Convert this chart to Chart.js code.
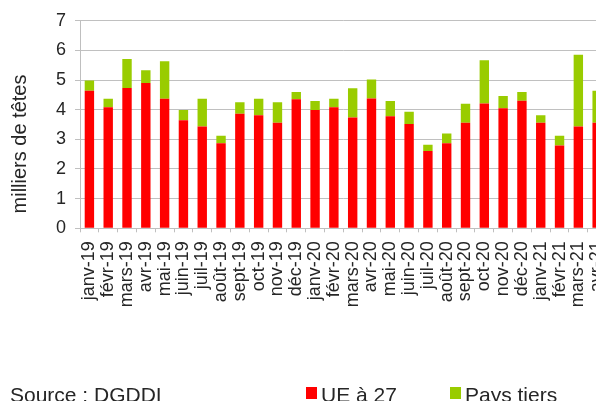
<!DOCTYPE html>
<html>
<head>
<meta charset="utf-8">
<script src="https://cdn.jsdelivr.net/npm/chart.js@4.4.1/dist/chart.umd.min.js"></script>
<style>
html,body{margin:0;padding:0;background:#fff;overflow:hidden;}
#wrap{position:relative;width:596px;height:401px;overflow:hidden;}
canvas{display:block;}
</style>
</head>
<body>
<div id="wrap"><canvas id="c" width="628" height="401" style="width:628px;height:401px"></canvas></div>
<script>
const categories = ["janv-19","févr-19","mars-19","avr-19","mai-19","juin-19","juil-19","août-19","sept-19","oct-19","nov-19","déc-19","janv-20","févr-20","mars-20","avr-20","mai-20","juin-20","juil-20","août-20","sept-20","oct-20","nov-20","déc-20","janv-21","févr-21","mars-21","avr-21"];
const ueValues = [4.64,4.08,4.73,4.90,4.37,3.64,3.43,2.87,3.86,3.81,3.56,4.35,3.99,4.08,3.74,4.38,3.78,3.52,2.61,2.87,3.56,4.21,4.05,4.30,3.56,2.79,3.43,3.56];
const tiersValues = [0.34,0.29,0.98,0.43,1.26,0.35,0.94,0.25,0.39,0.56,0.69,0.25,0.30,0.29,0.98,0.64,0.51,0.41,0.21,0.33,0.64,1.46,0.41,0.30,0.25,0.33,2.42,1.08];
const yTicks = [0,1,2,3,4,5,6,7];
const seriesNames = ["UE à 27","Pays tiers"];
const yTitle = "milliers de têtes";
const sourceText = "Source : DGDDI";

const FONT = "'Liberation Sans', Arial, sans-serif";
const textColor = "#262626";

const extras = {
  id: 'extras',
  afterDraw(chart) {
    const ctx = chart.ctx;
    ctx.save();
    ctx.fillStyle = textColor;
    ctx.font = "20px " + FONT;
    ctx.textAlign = "center";
    ctx.textBaseline = "alphabetic";
    ctx.translate(26, 144);
    ctx.rotate(-Math.PI / 2);
    ctx.fillText(yTitle, 0, 0);
    ctx.restore();

    ctx.save();
    ctx.font = "21px " + FONT;
    ctx.fillStyle = textColor;
    ctx.textBaseline = "alphabetic";
    ctx.textAlign = "left";
    ctx.fillText(sourceText, 10, 402);
    const items = [
      {x: 306, ds: chart.data.datasets[0]},
      {x: 450, ds: chart.data.datasets[1]}
    ];
    items.forEach(it => {
      ctx.fillStyle = it.ds.backgroundColor;
      ctx.fillRect(it.x, 387, 11, 12);
      ctx.fillStyle = textColor;
      ctx.fillText(it.ds.label, it.x + 15, 402);
    });
    ctx.restore();
  }
};

new Chart(document.getElementById('c'), {
  type: 'bar',
  data: {
    labels: categories,
    datasets: [
      {label: seriesNames[0], data: ueValues, backgroundColor: '#ff0000', borderWidth: 0},
      {label: seriesNames[1], data: tiersValues, backgroundColor: '#99cc00', borderWidth: 0}
    ]
  },
  options: {
    responsive: false,
    animation: false,
    devicePixelRatio: 1,
    layout: {padding: {top: 20.7, left: 0, right: 14, bottom: 0}},
    plugins: {legend: {display: false}, tooltip: {enabled: false}},
    datasets: {bar: {categoryPercentage: 1.0, barPercentage: 0.5}},
    scales: {
      x: {
        stacked: true,
        afterFit(scale) { scale.height = 401 - 228.3; },
        grid: {display: true, drawOnChartArea: false, drawTicks: true, tickLength: 4, offset: true, color: '#bfbfbf'},
        border: {display: true, color: '#bfbfbf'},
        ticks: {
          autoSkip: false, minRotation: 90, maxRotation: 90, padding: 9,
          color: textColor, font: {family: FONT, size: 18}
        }
      },
      y: {
        stacked: true,
        min: 0, max: 7,
        afterFit(scale) { scale.width = 80; },
        afterBuildTicks(scale) { scale.ticks = yTicks.map(v => ({value: v})); },
        grid: {color: '#c0c0c0', tickLength: 5, drawTicks: true},
        border: {display: true, color: '#bfbfbf'},
        ticks: {stepSize: 1, padding: 9, color: textColor, font: {family: FONT, size: 18}}
      }
    }
  },
  plugins: [extras]
});
</script>
</body>
</html>
